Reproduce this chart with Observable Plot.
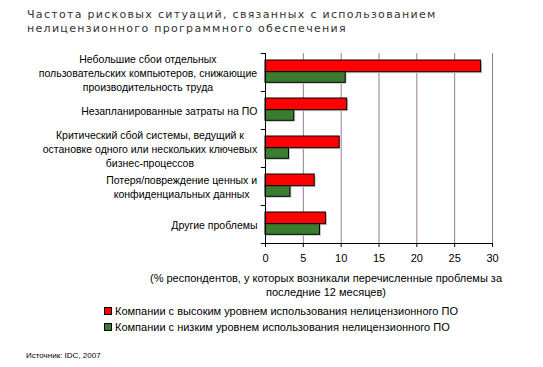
<!DOCTYPE html>
<html>
<head>
<meta charset="utf-8">
<script src="https://cdn.jsdelivr.net/npm/d3@7"></script>
<script src="https://cdn.jsdelivr.net/npm/@observablehq/plot@0.6"></script>
<style>
  html, body { margin: 0; padding: 0; background: #fff; }
  #root { position: relative; width: 543px; height: 367px; overflow: hidden; font-family: "Liberation Sans", Arial, sans-serif; color: #000; }
  #title { position: absolute; left: 27px; top: 8px; font-family: "DejaVu Sans", Verdana, sans-serif; font-size: 11px; line-height: 14px; letter-spacing: 1.3px; color: #333; white-space: nowrap; }
  #chart { position: absolute; left: 0; top: 0; }
  #xlabel { position: absolute; left: 126px; width: 400px; top: 271px; text-align: center; font-size: 11px; line-height: 14px; }
  #legend { position: absolute; left: 104px; top: 303px; font-size: 11px; line-height: 16px; }
  .li { display: flex; align-items: center; white-space: nowrap; }
  .sw { width: 6px; height: 6px; border: 1px solid #000; margin-right: 3px; }
  #source { position: absolute; left: 26px; top: 351px; font-size: 8px; line-height: 10px; }
</style>
</head>
<body>
<div id="root">
  <div id="title"></div>
  <div id="chart"></div>
  <div id="xlabel"></div>
  <div id="legend"></div>
  <div id="source"></div>
</div>
<script>
const titleLines = ["Частота рисковых ситуаций, связанных с использованием", "нелицензионного программного обеспечения"];
const categories = [
  "Небольшие сбои отдельных\nпользовательских компьютеров, снижающие\nпроизводительность труда",
  "Незапланированные затраты на ПО",
  "Критический сбой системы, ведущий к\nостановке одного или нескольких ключевых\nбизнес-процессов",
  "Потеря/повреждение ценных и\nконфиденциальных данных",
  "Другие проблемы"
];
const seriesNames = [
  "Компании с высоким уровнем использования нелицензионного ПО",
  "Компании с низким уровнем использования нелицензионного ПО"
];
const highValues = [28.5, 10.8, 9.8, 6.5, 8.0];
const lowValues = [10.6, 3.8, 3.1, 3.3, 7.2];
const xTicks = [0, 5, 10, 15, 20, 25, 30];
const xLabel = "(% респондентов, у которых возникали перечисленные проблемы за\nпоследние 12 месяцев)";
const sourceText = "Источник: IDC, 2007";
const colors = ["#ff0000", "#3a7d2f"];

const high = categories.map((c, i) => ({category: c, value: highValues[i]}));
const low = categories.map((c, i) => ({category: c, value: lowValues[i]}));

const H = 300, mTop = 53, mBottom = 57;
const half = (H - mTop - mBottom) / categories.length / 2;

const chart = Plot.plot({
  width: 543,
  height: H,
  marginTop: mTop,
  marginBottom: mBottom,
  marginLeft: 265,
  marginRight: 51,
  style: {fontFamily: "'Liberation Sans', Arial, sans-serif", fontSize: "11px", color: "#000", background: "transparent", overflow: "visible"},
  x: {domain: [0, 30], ticks: xTicks},
  y: {domain: categories, padding: 0},
  marks: [
    Plot.gridX(xTicks.slice(1), {stroke: "#957b95", strokeOpacity: 1, strokeWidth: 1}),
    // shadows
    Plot.barX(high, {x: "value", y: "category", insetTop: 7, insetBottom: 19.3, fill: "#c8c8c8", dx: 1.5, dy: 1.5}),
    Plot.barX(low, {x: "value", y: "category", insetTop: 18.7, insetBottom: 8.7, fill: "#c8c8c8", dx: 1.5, dy: 1.5}),
    Plot.barX(high, {x: "value", y: "category", insetTop: 7, insetBottom: 19.3, fill: colors[0], stroke: "#000", strokeWidth: 1}),
    Plot.barX(low, {x: "value", y: "category", insetTop: 18.7, insetBottom: 8.7, fill: colors[1], stroke: "#000", strokeWidth: 1}),
    Plot.frame({anchor: "left", stroke: "#000"}),
    Plot.frame({anchor: "bottom", stroke: "#000"}),
    Plot.ruleY(categories, {y: d => d, x1: -0.55, x2: 0, dy: -half, stroke: "#000"}),
    Plot.ruleY(categories.slice(-1), {y: d => d, x1: -0.55, x2: 0, dy: half, stroke: "#000"}),
    Plot.axisX({ticks: xTicks, tickSize: 4, tickPadding: 7, label: null, stroke: "#000"}),
    Plot.axisY({tickSize: 0, tickPadding: 8, label: null, lineHeight: 1.3, fontSize: 10.5})
  ]
});
document.getElementById("chart").appendChild(chart);

// center multi-line category labels as blocks whose right edge sits by the axis
chart.querySelectorAll('g[aria-label="y-axis tick label"] text').forEach(t => {
  const w = t.getBBox().width;
  t.setAttribute("text-anchor", "middle");
  t.setAttribute("transform", (t.getAttribute("transform") || "") + ` translate(${-w / 2},0)`);
});

document.getElementById("title").innerHTML = titleLines.join("<br>");
document.getElementById("xlabel").innerHTML = xLabel.split("\n").join("<br>");
document.getElementById("source").textContent = sourceText;
const legend = document.getElementById("legend");
seriesNames.forEach((name, i) => {
  const row = document.createElement("div");
  row.className = "li";
  const sw = document.createElement("span");
  sw.className = "sw";
  sw.style.background = colors[i];
  const tx = document.createElement("span");
  tx.textContent = name;
  row.appendChild(sw);
  row.appendChild(tx);
  legend.appendChild(row);
});
</script>
</body>
</html>
